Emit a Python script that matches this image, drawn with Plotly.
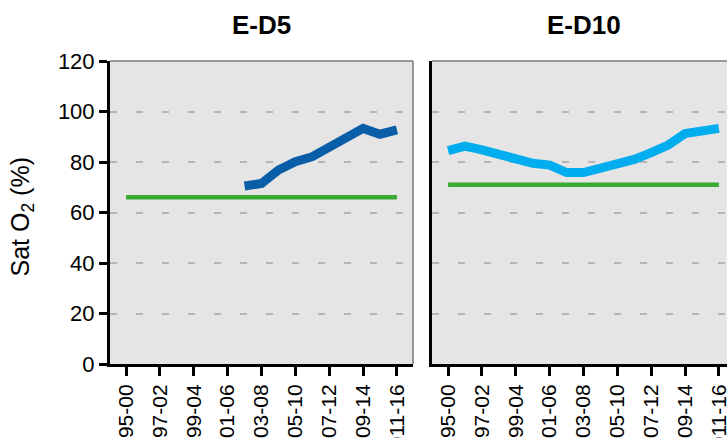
import plotly.graph_objects as go

periods = ["1995-00", "1996-01", "1997-02", "1998-03", "1999-04", "2000-05", "2001-06",
           "2002-07", "2003-08", "2004-09", "2005-10", "2006-11", "2007-12", "2008-13",
           "2009-14", "2010-15", "2011-16"]
tick_labels = periods[::2]

ed5_values = [None, None, None, None, None, None, None,
              70.5, 71.5, 76.8, 80.1, 82.1, 86.0, 90.0, 93.3, 91.0, 92.7]
ed5_reference = [66] * 17

ed10_values = [84.5, 86.3, 84.8, 83.2, 81.0, 79.5, 78.8, 75.8, 75.8, 77.5,
               80.1, 81.0, 83.7, 86.7, 91.3, 92.4, 93.3]
ed10_reference = [71] * 17

W, H = 727, 438
ML, MR, MT = 110, 0, 61
panel_px = 303
MB = H - MT - panel_px
PW = W - ML - MR
gap_px = 19
px_per_unit = panel_px / 17.9

x_idx = list(range(len(periods)))
tick_idx = x_idx[::2]

fig = go.Figure()
fig.add_trace(go.Scatter(x=x_idx, y=ed5_reference, mode="lines",
                         line=dict(color="#3BAA34", width=4.5), xaxis="x", yaxis="y",
                         showlegend=False, hoverinfo="skip"))
fig.add_trace(go.Scatter(x=x_idx, y=ed5_values, mode="lines",
                         line=dict(color="#0A5EA8", width=9), xaxis="x", yaxis="y",
                         showlegend=False, connectgaps=False))
fig.add_trace(go.Scatter(x=x_idx, y=ed10_reference, mode="lines",
                         line=dict(color="#3BAA34", width=4.5), xaxis="x2", yaxis="y2",
                         showlegend=False, hoverinfo="skip"))
fig.add_trace(go.Scatter(x=x_idx, y=ed10_values, mode="lines",
                         line=dict(color="#00AEEF", width=9), xaxis="x2", yaxis="y2",
                         showlegend=False))

font = dict(family="Liberation Sans, Arial, sans-serif", color="#000000")
d1_end = panel_px / PW
d2_start = (panel_px + gap_px) / PW
right_visible = PW - (panel_px + gap_px)
x2_max = -0.95 + right_visible / px_per_unit

xcommon = dict(tickmode="array", tickvals=tick_idx, ticktext=tick_labels,
               tickangle=-90, ticks="outside", ticklen=9, tickwidth=3, tickcolor="#000",
               showline=True, linecolor="#000", linewidth=3, showgrid=False,
               zeroline=False, tickfont=dict(size=21, **font), fixedrange=True,
               automargin=False, ticklabeloverflow="allow")
ygrid = dict(range=[0, 120], tickvals=[0, 20, 40, 60, 80, 100, 120], showgrid=True,
             gridcolor="#B5B5B5", gridwidth=2, griddash="7px,19px", zeroline=False,
             showline=True, linecolor="#000", linewidth=3, fixedrange=True,
             automargin=False)

fig.update_layout(
    width=W, height=H,
    margin=dict(l=ML, r=MR, t=MT, b=MB),
    paper_bgcolor="white",
    plot_bgcolor="#E5E5E5",
    font=font,
    xaxis=dict(domain=[0, d1_end], range=[-0.95, 16.95], anchor="y", **xcommon),
    xaxis2=dict(domain=[d2_start, 1], range=[-0.95, x2_max], anchor="y2", **xcommon),
    yaxis=dict(domain=[0, 1], anchor="x", ticks="outside", ticklen=8, tickwidth=3,
               tickcolor="#000", tickfont=dict(size=22, **font), **ygrid),
    yaxis2=dict(domain=[0, 1], anchor="x2", ticks="", showticklabels=False, **ygrid),
    shapes=[
        dict(type="line", xref="x domain", yref="y domain", x0=0, x1=1, y0=1, y1=1,
             line=dict(color="#7A7A7A", width=1.5)),
        dict(type="line", xref="x domain", yref="y domain", x0=1, x1=1, y0=0, y1=1,
             line=dict(color="#7A7A7A", width=1.5)),
        dict(type="line", xref="x2 domain", yref="y2 domain", x0=0, x1=1, y0=1, y1=1,
             line=dict(color="#7A7A7A", width=1.5)),
    ],
    annotations=[
        dict(text="<b>E-D5</b>", xref="x domain", yref="paper", x=0.5, y=1,
             yshift=36, xanchor="center", yanchor="middle", showarrow=False,
             font=dict(size=26, **font)),
        dict(text="<b>E-D10</b>", xref="paper", yref="paper",
             x=(d2_start * PW + panel_px / 2) / PW, y=1,
             yshift=36, xanchor="center", yanchor="middle", showarrow=False,
             font=dict(size=26, **font)),
        dict(text="Sat O<sub>2</sub> (%)", xref="paper", yref="paper",
             x=(21 - ML) / PW, y=0.5, yshift=-5, xanchor="center", yanchor="middle",
             textangle=-90, showarrow=False, font=dict(size=25, **font)),
    ],
)

fig.write_html("out.html", config={"displayModeBar": False},
               post_script="document.body.style.margin='0';document.body.style.overflow='hidden';")
